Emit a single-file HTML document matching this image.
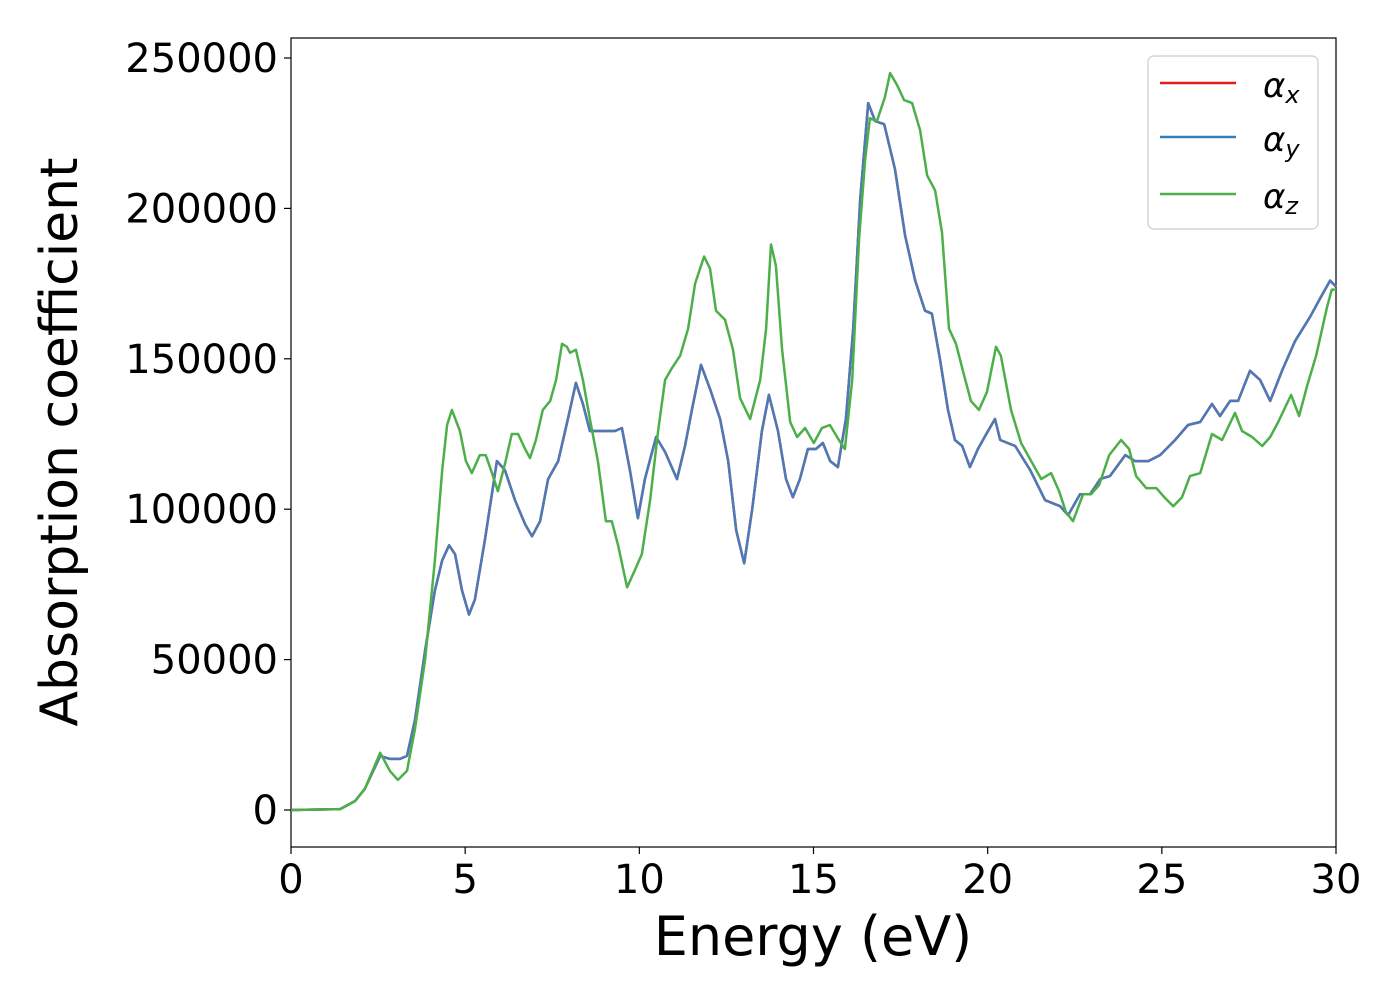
<!DOCTYPE html>
<html><head><meta charset="utf-8"><style>
body{margin:0;background:#fff}
svg{display:block;font-family:"DejaVu Sans","Liberation Sans",sans-serif}
</style></head><body>
<svg id="chart" width="1400" height="1000">
<rect x="291" y="38" width="1045" height="809" fill="#fff" stroke="#000" stroke-width="1.2"/>
<g id="yticks"></g>
<g id="xticks"></g>
<g id="series"></g>
<text x="813" y="955" font-size="54" text-anchor="middle">Energy (eV)</text>
<text transform="translate(77,442) rotate(-90)" font-size="52" text-anchor="middle">Absorption coefficient</text>
<g>
<rect x="1148" y="56" width="170" height="173" rx="6" fill="#fff" stroke="#ccc" stroke-width="1.2"/>
<line x1="1160" y1="83" x2="1236" y2="83" stroke="#e41a1c" stroke-width="2.5"/>
<text x="1263" y="97" font-size="34" font-style="italic">α<tspan font-size="24" dy="6">x</tspan></text>
<line x1="1160" y1="137" x2="1236" y2="137" stroke="#377eb8" stroke-width="2.5"/>
<text x="1263" y="151" font-size="34" font-style="italic">α<tspan font-size="24" dy="6">y</tspan></text>
<line x1="1160" y1="194" x2="1236" y2="194" stroke="#4daf4a" stroke-width="2.5"/>
<text x="1263" y="208" font-size="34" font-style="italic">α<tspan font-size="24" dy="6">z</tspan></text>
</g>
</svg>
<script>
const xTicks=[0,5,10,15,20,25,30];
const yTicks=[0,50000,100000,150000,200000,250000];
const eXY=[0,1.41,1.84,2.12,2.56,2.84,3.13,3.33,3.56,3.85,4.13,4.34,4.54,4.71,4.91,5.11,5.28,5.57,5.91,6.14,6.43,6.72,6.92,7.15,7.38,7.67,7.95,8.18,8.38,8.58,8.81,9.04,9.30,9.50,9.73,9.96,10.16,10.48,10.74,11.08,11.31,11.51,11.77,12.03,12.32,12.55,12.78,13.01,13.24,13.52,13.72,13.98,14.21,14.41,14.61,14.84,15.07,15.27,15.48,15.70,15.93,16.14,16.34,16.57,16.77,17.03,17.34,17.63,17.92,18.20,18.40,18.63,18.86,19.06,19.27,19.49,19.72,20.01,20.21,20.36,20.79,21.22,21.65,22.08,22.31,22.65,22.94,23.23,23.51,23.95,24.23,24.61,24.95,25.38,25.75,26.10,26.44,26.67,26.96,27.19,27.53,27.82,28.11,28.45,28.83,29.26,29.54,29.83,30];
const aXY=[0,0.3,3,7,18,17,17,18,30,53,73,83,88,85,73,65,70,90,116,113,103,95,91,96,110,116,130,142,135,126,126,126,126,127,113,97,110,124,119,110,121,133,148,140,130,116,93,82,100,126,138,126,110,104,110,120,120,122,116,114,130,160,203,235,229,228,213,191,176,166,165,150,133,123,121,114,120,126,130,123,121,113,103,101,98,105,105,110,111,118,116,116,118,123,128,129,135,131,136,136,146,143,136,146,156,164,170,176,174];
const eZ=[0,1.41,1.84,2.12,2.56,2.84,3.07,3.33,3.56,3.85,4.13,4.34,4.48,4.62,4.85,5.02,5.19,5.42,5.59,5.77,5.94,6.14,6.34,6.52,6.72,6.86,7.03,7.23,7.44,7.61,7.78,7.92,8.01,8.18,8.38,8.58,8.81,9.04,9.21,9.39,9.65,9.88,10.07,10.31,10.54,10.74,10.94,11.17,11.40,11.60,11.86,12.03,12.20,12.46,12.69,12.89,13.18,13.47,13.64,13.78,13.92,14.10,14.33,14.53,14.76,15.01,15.24,15.47,15.73,15.90,16.11,16.31,16.48,16.62,16.82,17.05,17.20,17.40,17.60,17.83,18.06,18.26,18.49,18.69,18.89,19.09,19.29,19.52,19.75,19.98,20.24,20.38,20.67,20.96,21.25,21.54,21.82,22.05,22.25,22.45,22.74,22.97,23.20,23.49,23.83,24.06,24.26,24.55,24.84,25.07,25.33,25.58,25.81,26.10,26.44,26.73,27.10,27.30,27.59,27.88,28.11,28.34,28.71,28.94,29.17,29.43,29.74,29.88,30];
const aZ=[0,0.3,3,7,19,13,10,13,27,50,83,113,128,133,126,116,112,118,118,112,106,115,125,125,120,117,123,133,136,143,155,154,152,153,143,130,116,96,96,88,74,80,85,103,126,143,147,151,160,175,184,180,166,163,153,137,130,143,160,188,181,153,129,124,127,122,127,128,123,120,143,190,216,230,229,237,245,241,236,235,226,211,206,192,160,155,146,136,133,139,154,151,133,122,116,110,112,106,99,96,105,105,108,118,123,120,111,107,107,104,101,104,111,112,125,123,132,126,124,121,124,129,138,131,141,151,167,173,173];
const NS="http://www.w3.org/2000/svg";
const L=291,R=1336,Y0=810,Y250=58;
function sx(e){return L+(e-0)/30*(R-L);}
function sy(v){return Y0-v/250000*(Y0-Y250);}
const yt=document.getElementById('yticks'),xt=document.getElementById('xticks'),sg=document.getElementById('series');
yTicks.forEach(v=>{
 const l=document.createElementNS(NS,'line');l.setAttribute('x1',284);l.setAttribute('x2',291);l.setAttribute('y1',sy(v));l.setAttribute('y2',sy(v));l.setAttribute('stroke','#000');l.setAttribute('stroke-width','1.2');
 
 
 yt.appendChild(l);
 const t=document.createElementNS(NS,'text');t.setAttribute('x',278);t.setAttribute('y',sy(v)+14);t.setAttribute('text-anchor','end');t.setAttribute('font-size','40');t.textContent=v;
 
 
 yt.appendChild(t);
});
xTicks.forEach(v=>{
 const l=document.createElementNS(NS,'line');l.setAttribute('x1',sx(v));l.setAttribute('x2',sx(v));l.setAttribute('y1',847);l.setAttribute('y2',854);l.setAttribute('stroke','#000');l.setAttribute('stroke-width','1.2');
 
 
 xt.appendChild(l);
 const t=document.createElementNS(NS,'text');t.setAttribute('x',sx(v));t.setAttribute('y',893);t.setAttribute('text-anchor','middle');t.setAttribute('font-size','40');t.textContent=v;
 
 
 xt.appendChild(t);
});
function line(es,as,color,name){
 const p=document.createElementNS(NS,'polyline');
 p.setAttribute('points',es.map((e,i)=>sx(e).toFixed(1)+','+sy(as[i]*1000).toFixed(1)).join(' '));
 p.setAttribute('fill','none');p.setAttribute('stroke',color);p.setAttribute('stroke-width','2.5');p.setAttribute('stroke-linejoin','round');
 
 
 sg.appendChild(p);
}
line(eXY,aXY,'#e41a1c','series-alpha-x');
line(eXY,aXY,'#4a7ab8','series-alpha-y');
line(eZ,aZ,'#4daf4a','series-alpha-z');
</script>
</body></html>
